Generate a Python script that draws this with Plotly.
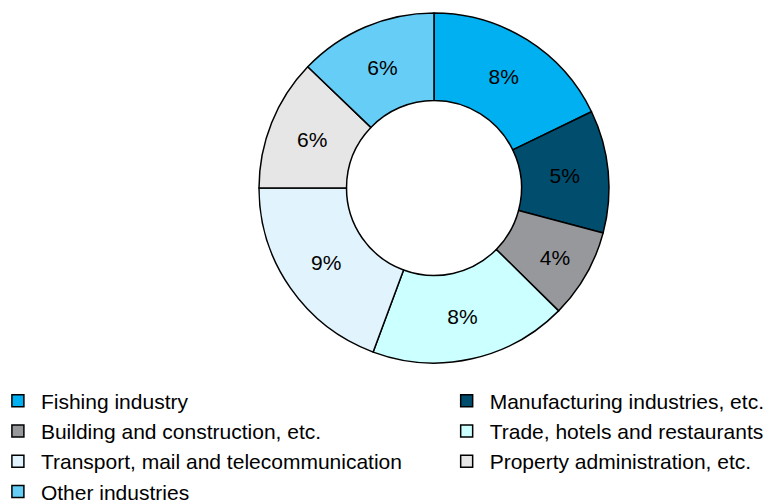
import plotly.graph_objects as go

# Industry shares (percent), clockwise from 12 o'clock
industries = [
    "Fishing industry",
    "Manufacturing industries, etc.",
    "Building and construction, etc.",
    "Trade, hotels and restaurants",
    "Transport, mail and telecommunication",
    "Property administration, etc.",
    "Other industries",
]
shares = [8.2, 5.2, 3.8, 8.4, 8.9, 5.6, 5.9]
colors = ["#00B0F0", "#004D6E", "#97989C", "#CCFFFF", "#E1F3FD", "#E6E6E6", "#66CEF6"]

FONT = "Liberation Sans, Arial, sans-serif"

fig = go.Figure()
fig.add_trace(
    go.Pie(
        labels=industries,
        values=shares,
        hole=0.5,
        sort=False,
        direction="clockwise",
        rotation=0,
        marker=dict(colors=colors, line=dict(color="black", width=1.5)),
        texttemplate="%{value:.0f}%",
        textposition="inside",
        insidetextorientation="horizontal",
        textfont=dict(family=FONT, size=21, color="black"),
        domain=dict(x=[259 / 772, 609 / 772], y=[141 / 504, 491 / 504]),
        hoverinfo="label+value",
        showlegend=False,
    )
)

# Legend keys laid out row by row across two columns
for i, (name, col) in enumerate(zip(industries, colors)):
    fig.add_trace(
        go.Scatter(
            x=[None],
            y=[None],
            mode="markers",
            name=name,
            marker=dict(symbol="square", size=12, color=col, line=dict(color="black", width=1.5)),
            legend="legend" if i % 2 == 0 else "legend2",
            hoverinfo="skip",
        )
    )

legend_style = dict(
    orientation="v",
    yanchor="top",
    xanchor="left",
    traceorder="normal",
    itemwidth=36,
    bgcolor="rgba(0,0,0,0)",
    font=dict(family=FONT, size=21, color="black"),
    itemclick=False,
    itemdoubleclick=False,
)

fig.update_layout(
    width=772,
    height=504,
    margin=dict(l=0, r=0, t=0, b=0, autoexpand=False),
    paper_bgcolor="white",
    plot_bgcolor="white",
    font=dict(family=FONT, size=21, color="black"),
    xaxis=dict(visible=False),
    yaxis=dict(visible=False),
    showlegend=True,
    legend=dict(x=-0.0066, y=0.245, **legend_style),
    legend2=dict(x=0.5747, y=0.245, **legend_style),
)

fig.write_html("out.html")
